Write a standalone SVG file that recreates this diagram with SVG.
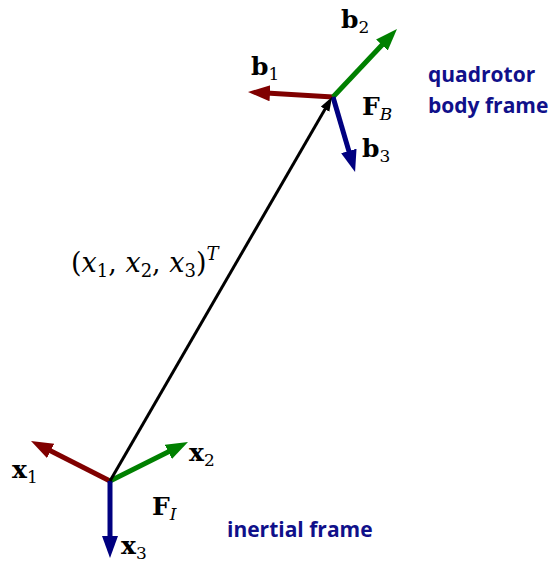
<svg xmlns="http://www.w3.org/2000/svg" width="556" height="567" viewBox="0 0 556 567">
<style>
.ax{fill:none;stroke-width:5;stroke-linecap:butt}
.r{stroke:#800000}.g{stroke:#008000}.b{stroke:#000080}
.m{font-family:"DejaVu Serif","Liberation Serif",serif;font-size:25px;fill:#000;font-weight:bold}
.sub{font-size:17px;font-weight:normal}
.it{font-style:italic;font-weight:normal}
.lbl{font-family:"Open Sans","Liberation Sans",sans-serif;font-weight:bold;font-size:21px;fill:#10108a}
.eq{font-family:"DejaVu Serif","Liberation Serif",serif;font-size:27px;fill:#000}
</style>
<defs>
<marker id="hr" markerUnits="userSpaceOnUse" markerWidth="24" markerHeight="18" refX="8" refY="8" orient="auto"><path d="M0,0 L22,8 L0,16 z" fill="#800000"/></marker>
<marker id="hg" markerUnits="userSpaceOnUse" markerWidth="24" markerHeight="18" refX="8" refY="8" orient="auto"><path d="M0,0 L22,8 L0,16 z" fill="#008000"/></marker>
<marker id="hb" markerUnits="userSpaceOnUse" markerWidth="24" markerHeight="18" refX="8" refY="8" orient="auto"><path d="M0,0 L22,8 L0,16 z" fill="#000080"/></marker>
<marker id="hk" markerUnits="userSpaceOnUse" markerWidth="16" markerHeight="12" refX="4" refY="5" orient="auto"><path d="M0,0 L14,5 L0,10 z" fill="#000"/></marker>
</defs>
<g id="connectors">
<line class="ax r" x1="110" y1="481" x2="43.5" y2="447.3" marker-end="url(#hr)"/>
<line class="ax g" x1="110" y1="481" x2="175.5" y2="448.3" marker-end="url(#hg)"/>
<line class="ax b" x1="110" y1="481" x2="110" y2="544" marker-end="url(#hb)"/>
<line class="ax r" x1="333" y1="97" x2="262" y2="92.8" marker-end="url(#hr)"/>
<line class="ax g" x1="333" y1="97" x2="387.4" y2="39.2" marker-end="url(#hg)"/>
<line class="ax b" x1="333" y1="97" x2="351.1" y2="158.6" marker-end="url(#hb)"/>
<line x1="110" y1="481" x2="327" y2="105.7" stroke="#000" stroke-width="3" marker-end="url(#hk)"/>
</g>
<g id="body-frame">
<text class="m" x="341" y="28">b<tspan class="sub" dy="5">2</tspan></text>
<text class="m" x="251" y="75">b<tspan class="sub" dy="5">1</tspan></text>
<text class="m" x="362" y="115">F<tspan class="sub it" dy="5">B</tspan></text>
<text class="m" x="362" y="157">b<tspan class="sub" dy="5">3</tspan></text>
<text class="lbl" x="428" y="82">quadrotor</text>
<text class="lbl" x="428" y="113">body frame</text>
</g>
<g id="position">
<text class="eq" x="71" y="272">(<tspan font-style="italic">x</tspan><tspan font-size="18" dy="5">1</tspan><tspan dy="-5">, </tspan><tspan font-style="italic">x</tspan><tspan font-size="18" dy="5">2</tspan><tspan dy="-5">, </tspan><tspan font-style="italic">x</tspan><tspan font-size="18" dy="5">3</tspan><tspan dy="-5">)</tspan><tspan font-style="italic" font-size="18" dy="-12">T</tspan></text>
</g>
<g id="inertial-frame">
<text class="m" x="12" y="478">x<tspan class="sub" dy="5">1</tspan></text>
<text class="m" x="189" y="461">x<tspan class="sub" dy="5">2</tspan></text>
<text class="m" x="152" y="515">F<tspan class="sub it" dy="5">I</tspan></text>
<text class="m" x="121" y="554">x<tspan class="sub" dy="5">3</tspan></text>
<text class="lbl" x="227" y="537">inertial frame</text>
</g>
</svg>
